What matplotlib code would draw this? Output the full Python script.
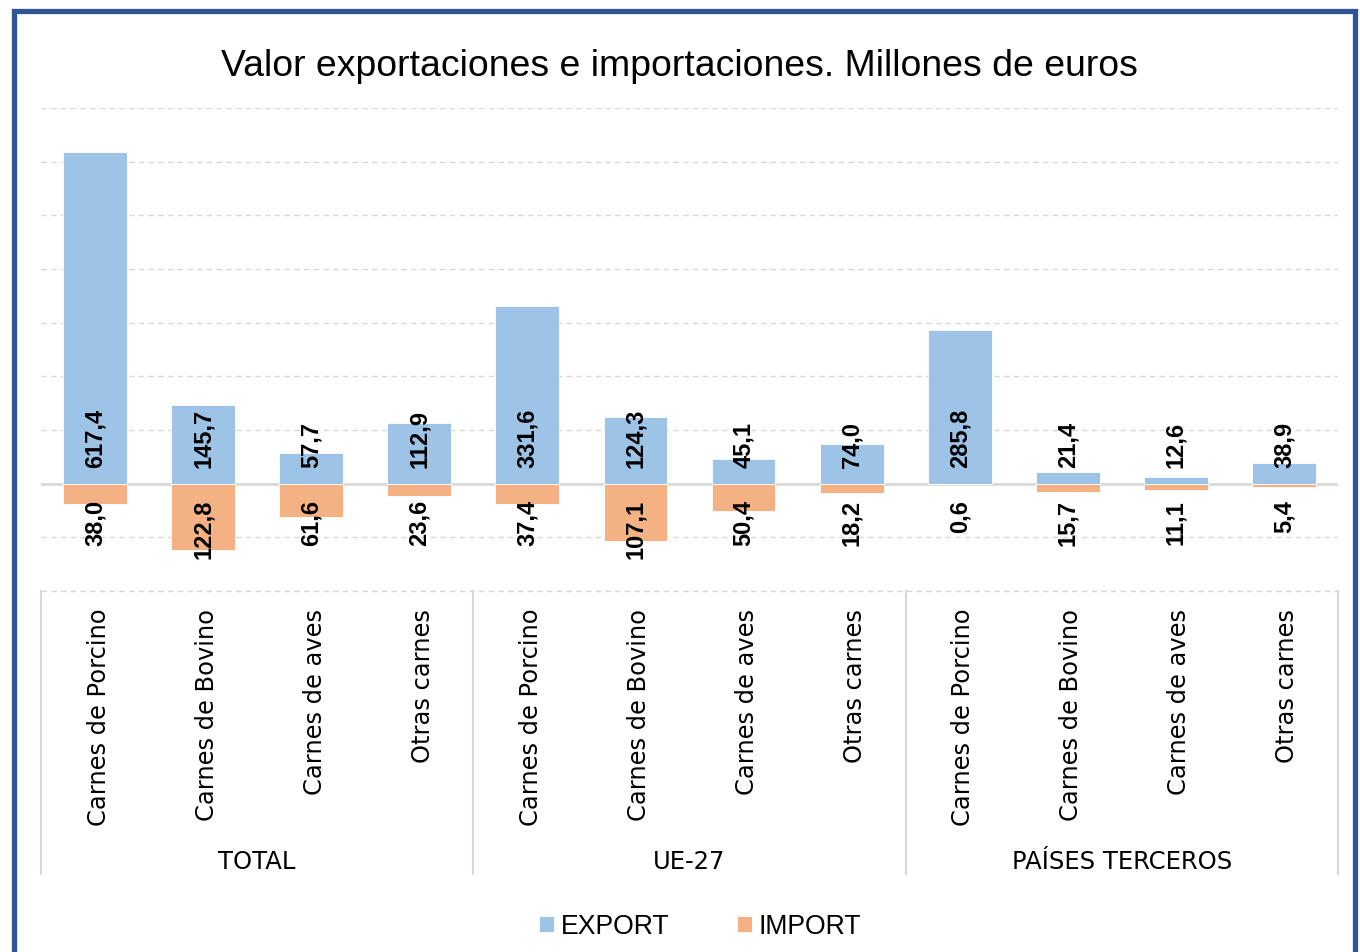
import matplotlib.pyplot as plt
from matplotlib.patches import Rectangle
from matplotlib.transforms import blended_transform_factory, ScaledTranslation

# data
categories = ["Carnes de Porcino", "Carnes de Bovino", "Carnes de aves", "Otras carnes"] * 3
groups = ["TOTAL", "UE-27", "PAÍSES TERCEROS"]
export_vals = [617.4, 145.7, 57.7, 112.9, 331.6, 124.3, 45.1, 74.0, 285.8, 21.4, 12.6, 38.9]
import_vals = [38.0, 122.8, 61.6, 23.6, 37.4, 107.1, 50.4, 18.2, 0.6, 15.7, 11.1, 5.4]

EXP_COLOR = "#9DC3E6"
IMP_COLOR = "#F4B183"
GRID = "#D9D9D9"

W, H = 1360, 953
fig = plt.figure(figsize=(W / 100, H / 100), dpi=100)
fig.patch.set_facecolor("white")

left, right, top, bottom = 41, 1338, 109, 592
ax = fig.add_axes([left / W, 1 - bottom / H, (right - left) / W, (bottom - top) / H])

x = list(range(len(categories)))
neg_imports = [-v for v in import_vals]
ax.bar(x, export_vals, width=0.59, color=EXP_COLOR, edgecolor="white", linewidth=0.6, label="EXPORT", zorder=2)
ax.bar(x, neg_imports, width=0.59, color=IMP_COLOR, edgecolor="white", linewidth=0.6, label="IMPORT", zorder=2)

ax.set_xlim(-0.5, len(x) - 0.5)
ax.set_ylim(-200, 700)
ax.set_yticks(range(-200, 701, 100))
ax.yaxis.grid(True, color=GRID, linestyle=(0, (4, 3)), linewidth=1)
ax.set_axisbelow(True)
ax.axhline(0, color=GRID, linewidth=2, zorder=1)
for s in ax.spines.values():
    s.set_visible(False)
ax.tick_params(axis="y", left=False, labelleft=False)
ax.set_xticks(x, categories, rotation=90, fontsize=17.4, family="DejaVu Sans")
ax.tick_params(axis="x", length=0, pad=12)
# nudge rotated labels so they sit centred under the bars
for lbl in ax.get_xticklabels():
    lbl.set_transform(lbl.get_transform() + ScaledTranslation(3.5 / 100, 0, fig.dpi_scale_trans))

# value labels
for xi, ev, iv in zip(x, export_vals, import_vals):
    ax.annotate(f"{ev:.1f}".replace(".", ","), (xi, 0), xytext=(0, 12), textcoords="offset points",
                rotation=90, ha="center", va="bottom", fontsize=17, fontweight="bold",
                family="Liberation Sans", zorder=3)
    ax.annotate(f"{iv:.1f}".replace(".", ","), (xi, 0), xytext=(0, -11), textcoords="offset points",
                rotation=90, ha="center", va="top", fontsize=17, fontweight="bold",
                family="Liberation Sans", zorder=3)

# group boxes below the axis
trans = blended_transform_factory(ax.transData, ax.transAxes)
sep_bottom = (bottom - 875) / (bottom - top)
ax.plot([-0.5, len(x) - 0.5], [0, 0], transform=trans, color=GRID, linestyle=(0, (4, 3)),
        linewidth=1, clip_on=False)
for sx in [-0.5, 3.5, 7.5, 11.5]:
    ax.plot([sx, sx], [0, sep_bottom], transform=trans, color=GRID, linewidth=1.5, clip_on=False)
grp_y = (bottom - 862) / (bottom - top)
for i, g in enumerate(groups):
    ax.text(4 * i + 1.5, grp_y, g, transform=trans, ha="center", va="center",
            fontsize=17.5, family="DejaVu Sans")

fig.text(679 / W, 1 - 66 / H, "Valor exportaciones e importaciones. Millones de euros",
         ha="center", va="center", fontsize=26.9, family="Liberation Sans")

leg = fig.legend(loc="center", bbox_to_anchor=(700 / W, 1 - 927 / H), ncol=2, frameon=False,
                 prop={"family": "Liberation Sans", "size": 19.2}, handlelength=0.55,
                 handleheight=0.55, handletextpad=0.25, columnspacing=2.55)

# blue frame
fig.patches.append(Rectangle((13.5 / W, -0.05), (1354.5 - 13.5) / W, 1.05 - 12 / H,
                             transform=fig.transFigure, fill=False, edgecolor="#2F5597",
                             linewidth=3.8, zorder=10))

fig.savefig("out.png", dpi=100, facecolor="white")
